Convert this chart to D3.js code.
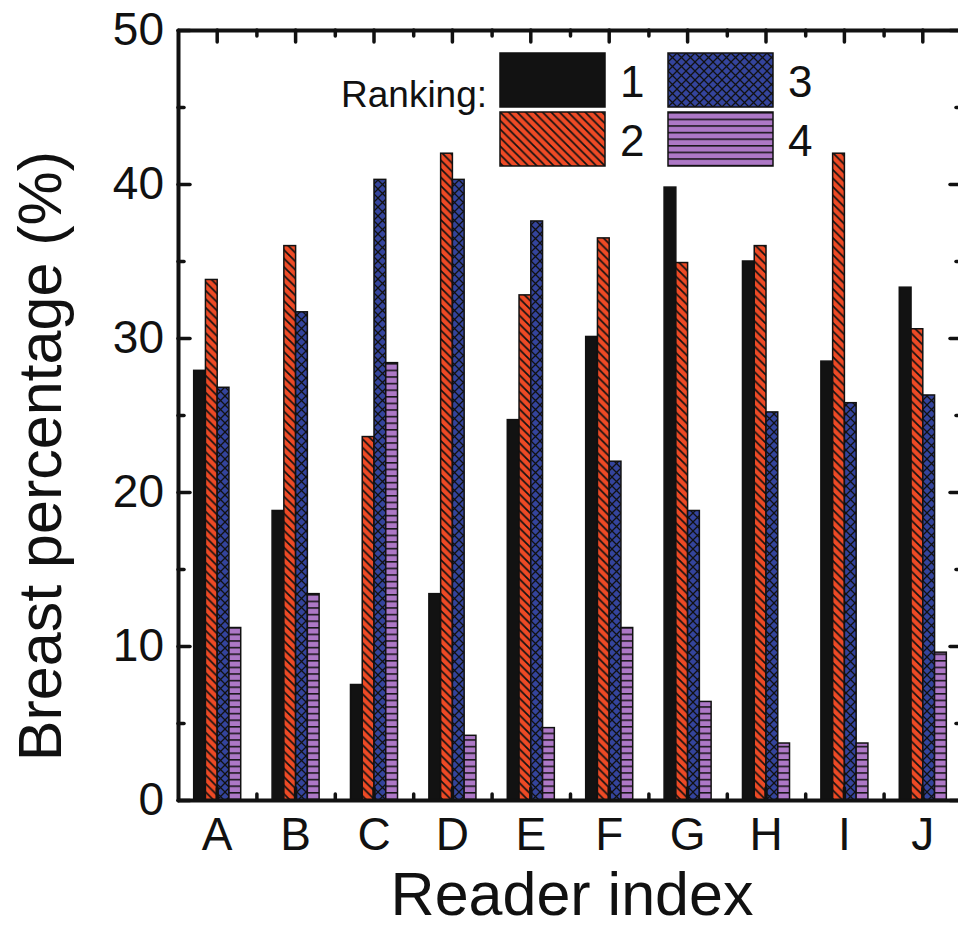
<!DOCTYPE html>
<html>
<head>
  <script src="https://d3js.org/d3.v7.min.js"></script>
  <style>
    body {
  margin: 0;
  background-color: #ffffff;
}

svg {
  display: block;
  background-color: #ffffff;
  font-family: 'Liberation Sans', Arial, sans-serif;
}

.axis path,
.axis line {
  stroke: #111;
  stroke-linecap: round;
}

.axis path {
  stroke-width: 4px;
}

.axis line {
  stroke-width: 3.5px;
}

.axis text {
  fill: #111;
  font-size: 46px;
}

.bar {
  stroke: #111;
  stroke-width: 1.5px;
}
  </style>
</head>
<body>

<script>
// Readers on the x axis.
const readers = ["A", "B", "C", "D", "E", "F", "G", "H", "I", "J"];

// Breast percentage (%) per ranking, one value per reader.
const rank1 = [27.9, 18.8, 7.5, 13.4, 24.7, 30.1, 39.8, 35.0, 28.5, 33.3];
const rank2 = [33.8, 36.0, 23.6, 42.0, 32.8, 36.5, 34.9, 36.0, 42.0, 30.6];
const rank3 = [26.8, 31.7, 40.3, 40.3, 37.6, 22.0, 18.8, 25.2, 25.8, 26.3];
const rank4 = [11.2, 13.4, 28.4, 4.2, 4.7, 11.2, 6.4, 3.7, 3.7, 9.6];

const rankings = ["1", "2", "3", "4"];
const yTicks = [0, 10, 20, 30, 40, 50];
const yMinorTicks = [5, 15, 25, 35, 45];

const seriesValues = [rank1, rank2, rank3, rank4];

// Chart size and plot frame.
const width = 958;
const height = 933;
const plotLeft = 178, plotRight = 962, plotTop = 30, plotBottom = 800;

const svg = d3.select("body")
  .append("svg")
  .attr("width", width)
  .attr("height", height);

// Fill patterns for each ranking.
const defs = svg.append("defs");

const orange = defs.append("pattern")
  .attr("id", "p2")
  .attr("patternUnits", "userSpaceOnUse")
  .attr("width", 8.5)
  .attr("height", 8.5);
orange.append("rect").attr("width", 8.5).attr("height", 8.5).attr("fill", "#ee4a25");
orange.append("path")
  .attr("d", "M-1,-1 L9.5,9.5 M-1,7.5 L1,9.5 M7.5,-1 L9.5,1")
  .attr("stroke", "#111").attr("stroke-width", 1.7);

const blue = defs.append("pattern")
  .attr("id", "p3")
  .attr("patternUnits", "userSpaceOnUse")
  .attr("width", 9)
  .attr("height", 9);
blue.append("rect").attr("width", 9).attr("height", 9).attr("fill", "#34449c");
blue.append("path")
  .attr("d", "M0,0 L9,9 M9,0 L0,9")
  .attr("stroke", "#111").attr("stroke-width", 1.3);

const purple = defs.append("pattern")
  .attr("id", "p4")
  .attr("patternUnits", "userSpaceOnUse")
  .attr("width", 8)
  .attr("height", 6.6);
purple.append("rect").attr("width", 8).attr("height", 6.6).attr("fill", "#ad78c6");
purple.append("path")
  .attr("d", "M0,0.8 L8,0.8")
  .attr("stroke", "#111").attr("stroke-width", 1.5);

const fills = ["#121212", "url(#p2)", "url(#p3)", "url(#p4)"];

// Scales.
const x = d3.scaleBand()
  .domain(readers)
  .range([plotLeft, plotRight]);

const xEdge = d3.scaleLinear()
  .domain([0, readers.length])
  .range([plotLeft, plotRight]);

const groupWidth = x.bandwidth() * 0.6;
const xs = d3.scaleBand()
  .domain(rankings)
  .range([0, groupWidth]);

const y = d3.scaleLinear()
  .domain([0, 50])
  .range([plotBottom, plotTop]);

// Bars.
const rows = [];
readers.forEach((r, i) => {
  rankings.forEach((k, j) => {
    rows.push({ reader: r, rank: k, idx: j, value: seriesValues[j][i] });
  });
});

svg.append("g")
  .selectAll("rect")
  .data(rows)
  .join("rect")
  .attr("class", "bar")
  .attr("x", d => x(d.reader) + (x.bandwidth() - groupWidth) / 2 + xs(d.rank))
  .attr("y", d => y(d.value))
  .attr("width", xs.bandwidth())
  .attr("height", d => y(0) - y(d.value))
  .attr("fill", d => fills[d.idx]);

// Axes: ticks point inward on all four sides.
svg.append("g")
  .attr("class", "axis")
  .attr("transform", `translate(${plotLeft},0)`)
  .call(d3.axisLeft(y).tickValues(yTicks).tickSize(-12).tickSizeOuter(0).tickPadding(14));

svg.append("g")
  .attr("class", "axis")
  .attr("transform", `translate(${plotLeft},0)`)
  .call(d3.axisLeft(y).tickValues(yMinorTicks).tickSize(-6).tickFormat(""))
  .call(g => g.select(".domain").remove());

svg.append("g")
  .attr("class", "axis")
  .attr("transform", `translate(${plotRight},0)`)
  .call(d3.axisRight(y).tickValues(yTicks).tickSize(-12).tickSizeOuter(0).tickFormat(""));

svg.append("g")
  .attr("class", "axis")
  .attr("transform", `translate(${plotRight},0)`)
  .call(d3.axisRight(y).tickValues(yMinorTicks).tickSize(-6).tickFormat(""))
  .call(g => g.select(".domain").remove());

svg.append("g")
  .attr("class", "axis")
  .attr("transform", `translate(0,${plotBottom})`)
  .call(d3.axisBottom(x).tickSize(-12).tickSizeOuter(0).tickPadding(17));

svg.append("g")
  .attr("class", "axis")
  .attr("transform", `translate(0,${plotBottom})`)
  .call(d3.axisBottom(xEdge).tickValues(d3.range(1, readers.length)).tickSize(-6).tickFormat(""))
  .call(g => g.select(".domain").remove());

svg.append("g")
  .attr("class", "axis")
  .attr("transform", `translate(0,${plotTop})`)
  .call(d3.axisTop(x).tickSize(-12).tickSizeOuter(0).tickFormat(""));

svg.append("g")
  .attr("class", "axis")
  .attr("transform", `translate(0,${plotTop})`)
  .call(d3.axisTop(xEdge).tickValues(d3.range(1, readers.length)).tickSize(-6).tickFormat(""))
  .call(g => g.select(".domain").remove());

// Axis titles.
svg.append("text")
  .attr("transform", "translate(61,456) rotate(-90)")
  .attr("text-anchor", "middle")
  .attr("font-size", "61px")
  .attr("fill", "#111")
  .text("Breast percentage (%)");

svg.append("text")
  .attr("x", 572)
  .attr("y", 915)
  .attr("text-anchor", "middle")
  .attr("font-size", "61px")
  .attr("fill", "#111")
  .text("Reader index");

// Legend.
const legend = svg.append("g");

legend.append("text")
  .attr("x", 341)
  .attr("y", 107)
  .attr("font-size", "37px")
  .attr("fill", "#111")
  .text("Ranking:");

const legendItems = legend.selectAll("g.item")
  .data(rankings)
  .join("g")
  .attr("class", "item")
  .attr("transform", (d, i) => `translate(${i < 2 ? 500 : 668},${i % 2 === 0 ? 53 : 112})`);

legendItems.append("rect")
  .attr("class", "bar")
  .attr("width", 105)
  .attr("height", 54)
  .attr("fill", (d, i) => fills[i]);

legendItems.append("text")
  .attr("x", 120)
  .attr("y", 44)
  .attr("font-size", "44px")
  .attr("fill", "#111")
  .text(d => d);
</script>
</body>
</html>
